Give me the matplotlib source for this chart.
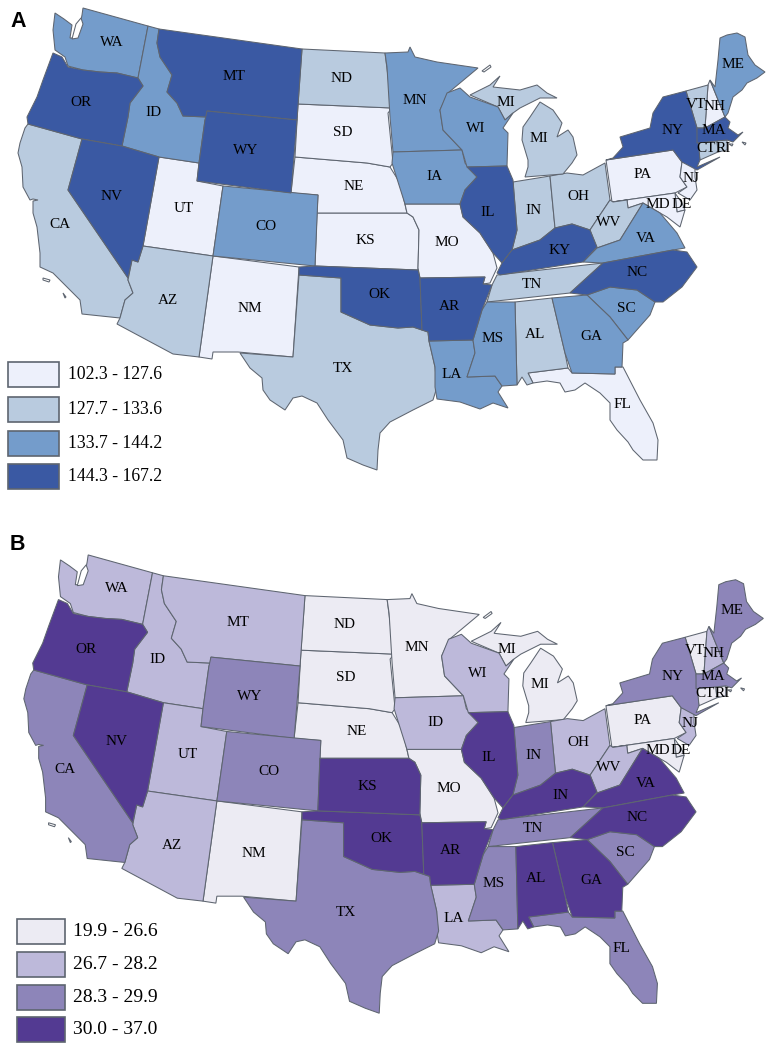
# -*- coding: utf-8 -*-
"""
Two choropleth maps of the US states, four classes each.
"""

import matplotlib.pyplot as plt
from matplotlib.patches import Polygon, Rectangle
from matplotlib.transforms import Affine2D

WIDTH = 771
HEIGHT = 1050
EDGE = "#5e6570"
LW = 0.75

COLORS_A = ["#edf0fb", "#b9cbdf", "#749ccb", "#3a59a3"]
COLORS_B = ["#ecebf3", "#bdb9da", "#8d85b9", "#533a92"]
LEGEND_A = ["102.3 - 127.6", "127.7 - 133.6", "133.7 - 144.2", "144.3 - 167.2"]
LEGEND_B = ["19.9 - 26.6", "26.7 - 28.2", "28.3 - 29.9", "30.0 - 37.0"]

CLASS_A = {
    0: "UT NM SD NE KS MO PA NJ MD DE NH FL",
    1: "CA AZ TX ND MI IN OH WV TN AL VT CT RI",
    2: "WA ID CO MN WI IA LA MS GA SC VA ME",
    3: "OR NV MT WY OK AR IL KY NC NY MA",
}
CLASS_B = {
    0: "ND SD NE MN MI MO NM PA VT MD DE CT RI",
    1: "WA ID MT UT AZ WI IA OH WV LA NH NJ",
    2: "CA WY CO TX IN TN MS FL SC NY ME MA",
    3: "OR NV KS OK AR IL KY VA NC AL GA",
}
# the lower map prints these two states under other names
RENAMED_B = {"IA": "ID", "KY": "IN"}

# outlines, in its pixels
OUTLINES = {
    "WA": [(55, 13), (53, 30), (55, 50), (65, 57), (68, 66), (83, 70), (100, 72), (117, 73), (138, 78), (148, 26), (83, 8), (82, 15), (80, 25), (73, 38), (70, 38), (72, 25), (64, 19)],
    "OR": [(53, 53), (62, 57), (68, 67), (83, 70), (100, 72), (117, 73), (138, 78), (143, 86), (130, 103), (128, 117), (122, 146), (82, 139), (28, 124), (27, 117), (37, 97), (43, 80)],
    "ID": [(148, 26), (159, 29), (157, 43), (160, 57), (172, 75), (167, 92), (177, 103), (183, 116), (207, 117), (205, 120), (199, 163), (159, 157), (122, 146), (128, 117), (130, 103), (143, 86), (138, 78)],
    "MT": [(159, 29), (302, 49), (297, 120), (207, 111), (207, 117), (183, 116), (177, 103), (167, 92), (172, 75), (160, 57), (157, 43)],
    "WY": [(207, 111), (297, 120), (291, 193), (197, 181), (199, 163), (205, 120)],
    "NV": [(82, 139), (122, 146), (159, 157), (143, 246), (138, 262), (132, 260), (128, 278), (68, 190)],
    "CA": [(28, 124), (82, 139), (68, 190), (128, 278), (128, 280), (133, 293), (125, 300), (120, 318), (82, 314), (80, 300), (67, 287), (53, 273), (40, 267), (40, 253), (37, 227), (33, 213), (33, 201), (38, 200), (33, 199), (30, 200), (23, 187), (22, 167), (18, 153), (20, 143), (25, 128)],
    "UT": [(159, 157), (199, 163), (197, 181), (223, 186), (213, 256), (143, 246)],
    "CO": [(223, 186), (318, 195), (315, 266), (213, 256)],
    "AZ": [(143, 246), (213, 256), (199, 357), (173, 354), (117, 324), (120, 318), (125, 300), (133, 293), (128, 280), (132, 260), (138, 262)],
    "NM": [(213, 256), (299, 267), (293, 357), (238, 352), (213, 352), (212, 359), (199, 357)],
    "TX": [(299, 275), (341, 278), (341, 312), (370, 325), (398, 328), (413, 327), (428, 332), (429, 341), (435, 367), (437, 387), (433, 400), (413, 410), (390, 422), (380, 433), (378, 450), (377, 470), (363, 465), (347, 458), (343, 440), (328, 420), (317, 403), (302, 396), (293, 398), (285, 410), (270, 400), (263, 390), (262, 378), (250, 368), (240, 353), (293, 357)],
    "OK": [(299, 267), (315, 266), (418, 270), (420, 278), (422, 330), (413, 327), (398, 328), (370, 325), (341, 312), (341, 278), (299, 275)],
    "KS": [(317, 213), (407, 213), (413, 217), (419, 230), (418, 270), (315, 266)],
    "NE": [(295, 157), (367, 163), (390, 167), (400, 183), (407, 213), (317, 213), (318, 195), (291, 193)],
    "SD": [(298, 104), (392, 108), (388, 113), (393, 163), (390, 167), (367, 163), (295, 157)],
    "ND": [(302, 49), (385, 53), (392, 108), (298, 104)],
    "MN": [(385, 53), (408, 52), (410, 47), (415, 57), (437, 62), (478, 68), (448, 93), (440, 110), (443, 130), (462, 150), (393, 152), (390, 117), (387, 67)],
    "IA": [(393, 152), (462, 150), (465, 163), (477, 177), (465, 190), (460, 204), (405, 204), (392, 163)],
    "MO": [(405, 204), (460, 204), (463, 217), (480, 233), (493, 253), (497, 268), (490, 283), (483, 284), (485, 277), (420, 278), (418, 268), (419, 230), (413, 217), (407, 213)],
    "AR": [(420, 278), (485, 277), (483, 284), (492, 285), (482, 310), (473, 340), (429, 341), (428, 332), (422, 330)],
    "LA": [(429, 341), (473, 340), (475, 353), (467, 377), (495, 376), (502, 386), (498, 392), (508, 408), (493, 403), (480, 409), (460, 402), (437, 399), (435, 387), (435, 367)],
    "WI": [(447, 93), (460, 88), (470, 97), (498, 107), (505, 120), (513, 113), (503, 128), (508, 133), (507, 166), (467, 167), (462, 150), (443, 130), (440, 110)],
    "IL": [(467, 167), (507, 166), (513, 180), (517, 230), (512, 250), (502, 263), (493, 253), (480, 233), (463, 217), (460, 204), (465, 190), (477, 177)],
    "IN": [(513, 182), (550, 176), (555, 228), (540, 240), (512, 250), (517, 230)],
    "OH": [(550, 176), (567, 173), (583, 175), (605, 163), (610, 200), (590, 230), (572, 224), (555, 228)],
    "MI": [(525, 177), (563, 174), (572, 163), (577, 155), (573, 137), (568, 130), (557, 137), (562, 123), (553, 110), (540, 102), (530, 117), (523, 127), (522, 140), (528, 160), (528, 167)],
    "MI2": [(470, 95), (490, 85), (500, 76), (493, 87), (520, 90), (537, 85), (547, 93), (557, 98), (540, 98), (520, 108), (513, 113), (505, 120), (498, 107)],
    "KY": [(512, 250), (540, 240), (555, 228), (572, 224), (590, 230), (597, 247), (583, 262), (500, 275), (497, 273), (502, 263)],
    "TN": [(492, 285), (497, 275), (603, 263), (570, 293), (487, 302)],
    "VA": [(583, 262), (597, 248), (620, 240), (643, 203), (660, 213), (677, 233), (685, 248), (673, 250), (603, 263)],
    "WV": [(610, 200), (613, 202), (627, 200), (628, 208), (643, 203), (620, 240), (597, 248), (590, 230)],
    "PA": [(606, 160), (673, 150), (682, 162), (680, 177), (687, 187), (675, 193), (612, 202)],
    "NY": [(613, 158), (623, 147), (620, 137), (650, 128), (653, 113), (663, 97), (686, 91), (697, 128), (700, 160), (697, 167), (720, 157), (697, 170), (682, 162), (673, 150), (606, 160)],
    "VT": [(686, 91), (708, 85), (705, 128), (697, 128)],
    "NH": [(708, 85), (710, 80), (725, 117), (705, 128)],
    "ME": [(715, 87), (718, 60), (720, 38), (727, 35), (737, 33), (745, 37), (748, 55), (755, 65), (765, 72), (757, 78), (747, 83), (742, 90), (733, 97), (728, 113), (725, 117), (710, 80)],
    "MA": [(697, 128), (705, 128), (725, 117), (730, 122), (728, 128), (738, 135), (743, 132), (733, 142), (727, 140), (697, 143)],
    "CT": [(697, 143), (717, 140), (718, 152), (700, 160)],
    "RI": [(717, 140), (727, 140), (727, 150), (718, 152)],
    "NJ": [(682, 162), (695, 165), (695, 177), (697, 190), (690, 200), (678, 193), (687, 187), (680, 177)],
    "DE": [(675, 193), (682, 203), (685, 210), (677, 212)],
    "MD": [(612, 202), (675, 193), (677, 212), (685, 210), (680, 227), (667, 217), (660, 213), (643, 203), (628, 208), (627, 200), (613, 202)],
    "NC": [(570, 293), (603, 263), (673, 250), (687, 252), (697, 267), (682, 287), (663, 302), (655, 302), (637, 290), (610, 287), (587, 295)],
    "SC": [(587, 295), (610, 287), (637, 290), (655, 302), (650, 315), (628, 340), (610, 317)],
    "GA": [(552, 298), (587, 295), (610, 317), (628, 340), (623, 343), (622, 367), (615, 367), (615, 374), (572, 373), (565, 353)],
    "AL": [(515, 302), (552, 298), (565, 353), (568, 368), (528, 373), (533, 383), (527, 385), (522, 377), (517, 385)],
    "MS": [(487, 302), (515, 302), (517, 385), (502, 386), (495, 376), (467, 377), (475, 353), (473, 340), (482, 310)],
    "FL": [(528, 373), (568, 368), (572, 373), (615, 374), (615, 367), (623, 367), (640, 400), (653, 423), (658, 440), (657, 460), (643, 460), (633, 450), (628, 442), (617, 430), (610, 420), (610, 403), (600, 393), (585, 383), (575, 390), (565, 392), (560, 383), (547, 381), (533, 383)],
}

ISLANDS = [
    [(76, 24), (81, 18), (83, 24), (78, 38), (72, 39)],
    [(482, 71), (490, 65), (491, 67), (484, 72)],
    [(43, 278), (50, 280), (49, 282), (43, 280)],
    [(63, 293), (66, 297), (65, 298)],
    [(742, 142), (746, 143), (745, 145)],
    [(729, 144), (733, 144), (732, 146)],
]

LABELS = {
    "WA": (112, 42), "OR": (81, 103), "ID": (153, 113), "MT": (234, 76), "WY": (246, 151),
    "NV": (112, 196), "CA": (60, 224), "UT": (184, 209), "CO": (266, 226), "AZ": (168, 301),
    "NM": (250, 309), "TX": (343, 368), "ND": (342, 78), "SD": (343, 132), "NE": (354, 186),
    "KS": (365, 241), "OK": (379, 294), "MN": (415, 101), "IA": (434, 177), "MO": (447, 243),
    "AR": (449, 306), "LA": (452, 375), "WI": (476, 128), "IL": (488, 212), "MS": (493, 339),
    "AL": (535, 334), "TN": (532, 284), "IN": (533, 210), "KY": (560, 251), "MI": (539, 139),
    "MI2": (506, 103), "OH": (578, 197), "WV": (609, 222), "VA": (646, 238), "NC": (637, 273),
    "SC": (626, 308), "GA": (591, 336), "FL": (622, 405), "PA": (643, 175), "NY": (673, 131),
    "NJ": (691, 178), "MD": (658, 205), "DE": (682, 205), "VT": (696, 104), "NH": (715, 107),
    "ME": (733, 64), "MA": (714, 131), "CT": (706, 148), "RI": (723, 148),
}


def main():
    plt.rcParams["font.family"] = ["Liberation Serif", "DejaVu Serif"]
    fig = plt.figure(figsize=(WIDTH / 100, HEIGHT / 100), dpi=100)
    ax = fig.add_axes([0, 0, 1, 1])
    ax.set_xlim(0, WIDTH)
    ax.set_ylim(HEIGHT, 0)
    ax.axis("off")

    # the lower map is the same outline, nudged and slightly shrunk
    to_b = Affine2D().scale(0.99, 0.992).translate(6, 547)
    draw_map(ax, CLASS_A, COLORS_A, Affine2D(), {})
    draw_map(ax, CLASS_B, COLORS_B, to_b, RENAMED_B)

    draw_legend(ax, LEGEND_A, COLORS_A, 8, 51, [362, 397, 431, 464], 25, 68, 12.7)
    draw_legend(ax, LEGEND_B, COLORS_B, 17, 48, [919, 952, 985, 1017], 25, 73, 14)

    ax.text(10, 27, "A", fontsize=15.5, fontweight="bold", family="Liberation Sans")
    ax.text(10, 550, "B", fontsize=15.5, fontweight="bold", family="Liberation Sans")
    fig.savefig("out.png", dpi=100)


def draw_map(ax, classes, colors, transform, renamed):
    trans = transform + ax.transData
    for idx_cls, names in classes.items():
        for name, outline in OUTLINES.items():
            if name[:2] not in names.split():
                continue
            ax.add_patch(
                Polygon(
                    outline,
                    closed=True,
                    facecolor=colors[idx_cls],
                    edgecolor=EDGE,
                    linewidth=LW,
                    transform=trans,
                )
            )
    for island in ISLANDS:
        ax.add_patch(
            Polygon(island, facecolor="white", edgecolor=EDGE, linewidth=LW, transform=trans)
        )
    for name, (x, y) in LABELS.items():
        ax.text(
            x,
            y,
            renamed.get(name, name[:2]),
            fontsize=11,
            ha="center",
            va="center",
            color="black",
            transform=trans,
        )


def draw_legend(ax, labels, colors, x, w, tops, h, x_text, size):
    for label, color, top in zip(labels, colors, tops):
        ax.add_patch(
            Rectangle((x, top), w, h, facecolor=color, edgecolor=EDGE, linewidth=1.2)
        )
        ax.text(x_text, top + h / 2, label, fontsize=size, va="center", color="black")


if __name__ == "__main__":
    main()
